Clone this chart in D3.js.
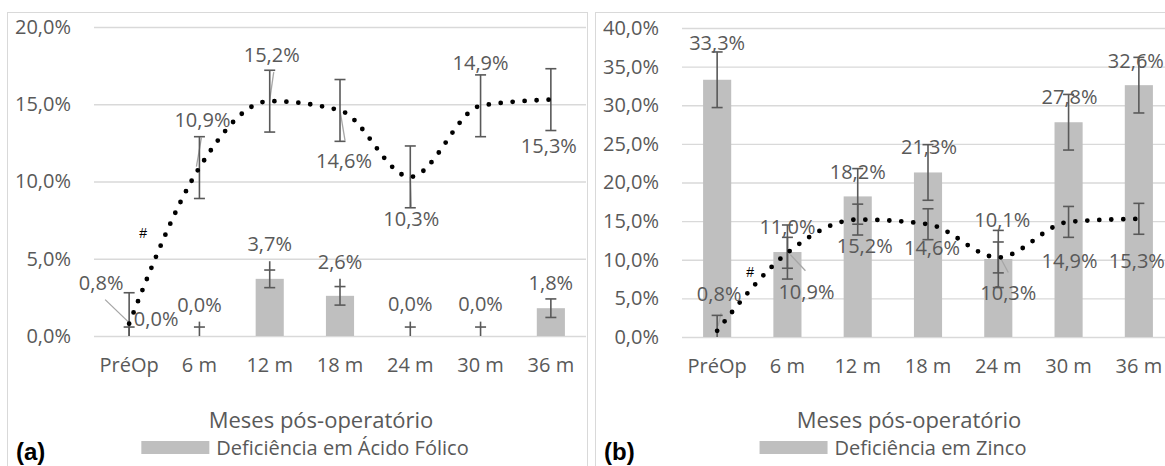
<!DOCTYPE html>
<html>
<head>
<meta charset="utf-8">
<script src="https://cdn.jsdelivr.net/npm/d3@7"></script>
<style>
  body { margin: 0; background: #fff; }
  text { font-family: "Open Sans", sans-serif; fill: #595959; }
</style>
</head>
<body>
<div id="chart"></div>
<script>
// Data
var categories = ["PréOp", "6 m", "12 m", "18 m", "24 m", "30 m", "36 m"];

// dotted line (same in both panels)
var lineValues = [0.8, 10.9, 15.2, 14.6, 10.3, 14.9, 15.3];
var lineErr = [2.0, 2.0, 2.0, 2.0, 2.0, 2.0, 2.0];

// (a) folic acid bars
var folicValues = [0.0, 0.0, 3.7, 2.6, 0.0, 0.0, 1.8];
var folicErr = [0.58, 0.58, 0.57, 0.6, 0.58, 0.58, 0.6];
var folicErrOver = [0.35, 0.35, 0.57, 0.5, 0.35, 0.35, 0];

// (b) zinc bars
var zincValues = [33.3, 11.0, 18.2, 21.3, 10.1, 27.8, 32.6];
var zincErr = [3.6, 3.5, 3.6, 3.6, 3.7, 3.6, 3.6];
var zincErrOver = [0, 0, 0, 0, 0, 0, 0];

var yTicksA = [0, 5, 10, 15, 20];
var yTicksB = [0, 5, 10, 15, 20, 25, 30, 35, 40];

var axisTitle = "Meses pós-operatório";

// Sizing
var width = 1165;
var height = 466;

var svg = d3.select("#chart").append("svg")
    .attr("width", width)
    .attr("height", height);

function fmt(v) {
    return v.toFixed(1).replace(".", ",") + "%";
}

// Panels (label offsets are pixels relative to the point / bar top)
var panels = [
    {
        tag: "(a)", legend: "Deficiência em Ácido Fólico",
        bars: folicValues, barErr: folicErr, barOver: folicErrOver,
        ticks: yTicksA, max: 20,
        box: [7, 12, 580, 470], left: 94, right: 586, top: 27, bottom: 336,
        lineLab: [[-28, -41], [3, -48], [2, -46], [4, 50], [1, 42], [0, -43], [-2, 46]],
        barLab: [[27, -17], [0, -31], [0, -35], [0, -34], [0, -32], [0, -32], [0, -25]],
        leaders: [[0, -24, -24, 1, 0], [1, -3, -1, 2, -30], [2, 0, -1, 4, -29], [3, 0, 0, 5, 30], [4, 0, 0, 1, 30]],
        hash: [14, 6.7]
    },
    {
        tag: "(b)", legend: "Deficiência em Zinco",
        bars: zincValues, barErr: zincErr, barOver: zincErrOver,
        ticks: yTicksB, max: 40,
        box: [595, 12, 580, 470], left: 682, right: 1174, top: 28, bottom: 337,
        lineLab: [[2, -37], [19, 39], [7, 26], [4, 24], [10, 35], [1, 39], [-2, 42]],
        barLab: [[0, -37], [0, -25], [0, -25], [1, -26], [4, -39], [1, -25], [-3, -24]],
        leaders: [[0, 1, -5, 4, -18], [1, 3, 2, 18, 18], [4, 2, 0, 10, 15], [5, 0, 2, 0, 16], [6, 0, 2, 0, 16]],
        hash: [33, 8.4]
    }
];

panels.forEach(drawPanel);

function errorBar(g, cx, y, v, e, over, cap) {
    var lo = Math.max(0, v - e);
    g.append("line")
        .attr("x1", cx).attr("x2", cx)
        .attr("y1", y(lo)).attr("y2", y(v + e + over));
    g.append("line")
        .attr("x1", cx - cap).attr("x2", cx + cap)
        .attr("y1", y(v + e)).attr("y2", y(v + e));
    if (v - e >= 0) {
        g.append("line")
            .attr("x1", cx - cap).attr("x2", cx + cap)
            .attr("y1", y(v - e)).attr("y2", y(v - e));
    }
}

function drawPanel(p) {
    var g = svg.append("g");

    // frame
    g.append("rect")
        .attr("x", p.box[0] + 0.5).attr("y", p.box[1] + 0.5)
        .attr("width", p.box[2]).attr("height", p.box[3])
        .attr("fill", "none").attr("stroke", "#d9d9d9");

    var x = d3.scaleBand()
        .domain(categories)
        .range([p.left, p.right])
        .paddingInner(0.6)
        .paddingOuter(0.3);

    var y = d3.scaleLinear()
        .domain([0, p.max])
        .range([p.bottom, p.top]);

    var cx = function (i) { return x(categories[i]) + x.bandwidth() / 2; };

    // y axis with gridlines
    var yAxis = g.append("g")
        .attr("transform", "translate(" + p.left + ",0)")
        .call(d3.axisLeft(y)
            .tickValues(p.ticks)
            .tickSize(-(p.right - p.left))
            .tickPadding(23)
            .tickFormat(fmt));
    yAxis.select(".domain").remove();
    yAxis.selectAll("line").attr("stroke", "#d9d9d9").attr("stroke-width", 1.3);
    yAxis.selectAll("text")
        .style("font-size", "20px")
        .attr("fill", "#595959");

    // x axis
    var xAxis = g.append("g")
        .attr("transform", "translate(0," + p.bottom + ")")
        .call(d3.axisBottom(x).tickSize(0).tickPadding(22));
    xAxis.select(".domain").remove();
    xAxis.selectAll("text")
        .style("font-size", "20px")
        .attr("fill", "#595959");

    // bars
    g.selectAll(".bar")
        .data(p.bars)
        .enter()
        .append("rect")
        .attr("class", "bar")
        .attr("x", function (d, i) { return x(categories[i]); })
        .attr("y", function (d) { return y(d); })
        .attr("width", x.bandwidth())
        .attr("height", function (d) { return p.bottom - y(d); })
        .attr("fill", "#bfbfbf");

    // leader lines of the line labels
    var lead = g.append("g").attr("stroke", "#a6a6a6").attr("stroke-width", 1.3);
    p.leaders.forEach(function (l) {
        var px = cx(l[0]), py = y(lineValues[l[0]]);
        lead.append("line")
            .attr("x1", px + l[1]).attr("y1", py + l[2])
            .attr("x2", px + l[3]).attr("y2", py + l[4]);
    });

    // error bars
    var eb = g.append("g").attr("stroke", "#595959").attr("stroke-width", 1.6);
    p.bars.forEach(function (v, i) {
        errorBar(eb, cx(i), y, v, p.barErr[i], p.barOver[i], 5.5);
    });
    lineValues.forEach(function (v, i) {
        errorBar(eb, cx(i), y, v, lineErr[i], 0, 5.5);
    });

    // dotted smoothed line
    var line = d3.line()
        .x(function (d, i) { return cx(i); })
        .y(function (d) { return y(d); })
        .curve(d3.curveMonotoneX);

    g.append("path")
        .datum(lineValues)
        .attr("d", line)
        .attr("fill", "none")
        .attr("stroke", "#000")
        .attr("stroke-width", 4.8)
        .attr("stroke-linecap", "round")
        .attr("stroke-dasharray", "0 12");

    // bar labels
    g.selectAll(".barlab")
        .data(p.bars)
        .enter()
        .append("text")
        .attr("class", "barlab")
        .attr("x", function (d, i) { return cx(i) + p.barLab[i][0]; })
        .attr("y", function (d, i) { return y(d) + p.barLab[i][1]; })
        .attr("dy", "0.36em")
        .attr("text-anchor", "middle")
        .style("font-size", "20px")
        .text(fmt);

    // line labels
    g.selectAll(".linelab")
        .data(lineValues)
        .enter()
        .append("text")
        .attr("class", "linelab")
        .attr("x", function (d, i) { return cx(i) + p.lineLab[i][0]; })
        .attr("y", function (d, i) { return y(d) + p.lineLab[i][1]; })
        .attr("dy", "0.36em")
        .attr("text-anchor", "middle")
        .style("font-size", "20px")
        .text(fmt);

    // significance mark
    g.append("text")
        .attr("x", cx(0) + p.hash[0])
        .attr("y", y(p.hash[1]))
        .attr("dy", "0.36em")
        .attr("text-anchor", "middle")
        .style("font-family", "Liberation Sans, Arial, sans-serif")
        .style("font-size", "14px")
        .style("fill", "#000")
        .text("#");

    // axis title
    var mid = p.box[0] + p.box[2] / 2;
    g.append("text")
        .attr("x", p.box[0] + 314)
        .attr("y", 428)
        .attr("text-anchor", "middle")
        .style("font-size", "22px")
        .text(axisTitle);

    // legend
    var leg = g.append("g");
    var legText = leg.append("text")
        .attr("x", 75)
        .attr("y", 455)
        .style("font-size", "20px")
        .text(p.legend);
    leg.append("rect")
        .attr("x", 0).attr("y", 441)
        .attr("width", 68).attr("height", 13)
        .attr("fill", "#bfbfbf");
    var lw = 75 + legText.node().getComputedTextLength();
    leg.attr("transform", "translate(" + (mid + 8 - lw / 2) + ",0)");

    // panel tag
    g.append("text")
        .attr("x", p.box[0] + 9)
        .attr("y", 460)
        .style("font-family", "Liberation Sans, Arial, sans-serif")
        .style("font-weight", "bold")
        .style("font-size", "24px")
        .style("fill", "#000")
        .text(p.tag);
}
</script>
</body>
</html>
